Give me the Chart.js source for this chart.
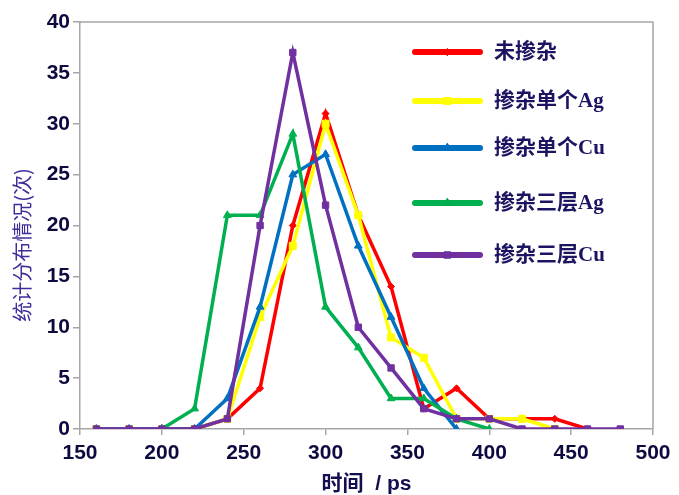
<!DOCTYPE html>
<html>
<head>
<meta charset="utf-8">
<script src="https://cdn.jsdelivr.net/npm/chart.js@4/dist/chart.umd.min.js"></script>
<style>
  html, body { margin: 0; padding: 0; background: #ffffff; }
  #wrap { width: 679px; height: 495px; position: relative; }
</style>
</head>
<body>
<div id="wrap"><canvas id="c" width="679" height="495"></canvas></div>
<script>
// ---- data ----
const times = [160, 180, 200, 220, 240, 260, 280, 300, 320, 340, 360, 380, 400, 420, 440, 460, 480];
const seriesNames = ['未掺杂', '掺杂单个Ag', '掺杂单个Cu', '掺杂三层Ag', '掺杂三层Cu'];
const undoped   = [0, 0, 0, 0, 1, 4, 20, 31, 21, 14, 2, 4, 1, 1, 1, 0, null];
const singleAg  = [0, 0, 0, 0, 1, 11, 18, 30, 21, 9, 7, 1, 1, 1, 0, null, null];
const singleCu  = [0, 0, 0, 0, 3, 12, 25, 27, 18, 11, 4, 0, null, null, null, null, null];
const tripleAg  = [null, null, 0, 2, 21, 21, 29, 12, 8, 3, 3, 1, 0, null, null, null, null];
const tripleCu  = [0, 0, 0, 0, 1, 20, 37, 22, 10, 6, 2, 1, 1, 0, 0, 0, 0];
const xTitle = '时间  / ps';
const yTitle = '统计分布情况(次)';

const colors = ['#ff0000', '#ffff00', '#0070c0', '#00b050', '#7030a0'];
const pointStyles = ['rectRot', 'rect', 'triangle', 'triangle', 'rect'];
const pointRadii = [3.5, 5, 4.5, 4.5, 4.5];
const allSeries = [undoped, singleAg, singleCu, tripleAg, tripleCu];

function toPoints(arr) {
  const out = [];
  arr.forEach((v, i) => { if (v !== null) out.push({ x: times[i], y: v }); });
  return out;
}

const datasets = allSeries.map((arr, i) => ({
  label: seriesNames[i],
  data: toPoints(arr),
  borderColor: colors[i],
  backgroundColor: colors[i],
  borderWidth: 3.5,
  pointStyle: pointStyles[i],
  pointRadius: pointRadii[i],
  pointBorderWidth: 1,
  pointBackgroundColor: colors[i],
  pointBorderColor: colors[i],
  tension: 0,
  order: 5 - i
}));

const frameAndLegend = {
  id: 'frameAndLegend',
  beforeDatasetsDraw(chart) {
    const { ctx, chartArea: a } = chart;
    ctx.save();
    ctx.strokeStyle = '#a6a6a6';
    ctx.lineWidth = 1.5;
    ctx.beginPath();
    ctx.moveTo(a.left, a.top);
    ctx.lineTo(a.right, a.top);
    ctx.lineTo(a.right, a.bottom);
    ctx.stroke();
    ctx.restore();
  },
  afterDraw(chart) {
    const { ctx } = chart;
    ctx.save();
    // y-axis title
    ctx.fillStyle = '#3d2e9a';
    ctx.font = '20px "Noto Sans CJK SC", sans-serif';
    ctx.textAlign = 'center';
    ctx.textBaseline = 'middle';
    ctx.translate(22, 245);
    ctx.rotate(-Math.PI / 2);
    ctx.fillText(yTitle, 0, 0);
    ctx.restore();

    // legend
    const ys = [52, 101, 148, 203, 255];
    const x0 = 415, x1 = 480, tx = 494;
    ctx.save();
    chart.data.datasets.forEach((ds, i) => {
      const y = ys[i];
      ctx.strokeStyle = ds.borderColor;
      ctx.lineWidth = 6;
      ctx.lineCap = 'round';
      ctx.beginPath();
      ctx.moveTo(x0, y);
      ctx.lineTo(x1, y);
      ctx.stroke();
      if (Chart.helpers && Chart.helpers.drawPoint) {
        ctx.lineWidth = 1;
        Chart.helpers.drawPoint(ctx, {
          pointStyle: ds.pointStyle, radius: ds.pointRadius, borderWidth: 1, rotation: 0
        }, (x0 + x1) / 2, y);
        ctx.fillStyle = ds.borderColor;
        ctx.fill();
      }
      ctx.fillStyle = '#1b1462';
      ctx.font = 'bold 21px "Liberation Serif", "Noto Sans CJK SC", serif';
      ctx.textAlign = 'left';
      ctx.textBaseline = 'middle';
      ctx.fillText(ds.label, tx, y + 1);
    });
    ctx.restore();
  }
};

new Chart(document.getElementById('c'), {
  type: 'line',
  data: { datasets },
  options: {
    responsive: false,
    animation: false,
    devicePixelRatio: 1,
    layout: { padding: { top: 22, right: 26, left: 0, bottom: 0 } },
    plugins: { legend: { display: false }, tooltip: { enabled: false } },
    scales: {
      x: {
        type: 'linear',
        min: 150, max: 500,
        afterFit(s) { s.height = 66; },
        ticks: {
          stepSize: 50,
          color: '#0d0a40',
          font: { family: '"Liberation Sans", Arial, sans-serif', size: 21, weight: 'bold' },
          padding: 6,
          maxRotation: 0
        },
        grid: { drawOnChartArea: false, drawTicks: true, tickLength: 6, color: '#a6a6a6', lineWidth: 1.5 },
        border: { color: '#a6a6a6', width: 1.5 },
        title: {
          display: true,
          text: xTitle,
          color: '#120f50',
          font: { family: '"Liberation Sans", "Noto Sans CJK SC", sans-serif', size: 21, weight: 'bold', lineHeight: 1 },
          padding: { top: 0, bottom: 0 }
        }
      },
      y: {
        min: 0, max: 40,
        afterFit(s) { s.width = 80; },
        ticks: {
          stepSize: 5,
          color: '#0d0a40',
          font: { family: '"Liberation Sans", Arial, sans-serif', size: 21, weight: 'bold' },
          padding: 3
        },
        grid: { drawOnChartArea: false, drawTicks: true, tickLength: 7, color: '#a6a6a6', lineWidth: 1.5 },
        border: { color: '#a6a6a6', width: 1.5 }
      }
    }
  },
  plugins: [frameAndLegend]
});
</script>
</body>
</html>
